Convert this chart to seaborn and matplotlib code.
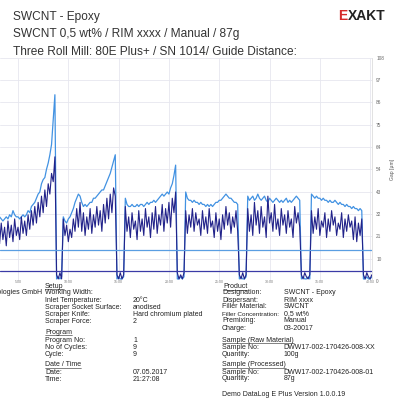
import numpy as np
import pandas as pd
import matplotlib
matplotlib.use("Agg")
import matplotlib.pyplot as plt
from matplotlib.lines import Line2D
import seaborn as sns

# ---- data (gap readings, sampled every 10 s) ----
sample_step = 10
first_sample = 180

light_c1 = [30, 31, 30, 29, 30, 31, 30, 32, 31, 34, 32, 31, 31, 30, 31, 32, 31, 32, 34, 33,
            36, 37, 38, 40, 42, 43, 47, 49, 50, 54, 57, 61, 66, 78, 90]
dark_c1 = [24, 18, 28, 20, 26, 17, 29, 21, 27, 19, 30, 22, 26, 20, 31, 23, 29, 22, 32, 25,
           34, 27, 36, 28, 38, 31, 41, 33, 44, 36, 47, 42, 52, 48, 60]
light_low1 = [1, 2, 1, 2]
dark_low1 = [3, 1, 4, 1]

light_c2 = [31, 29, 28, 30, 31, 33, 35, 38, 40, 42, 41, 38, 36, 37, 36, 37, 38, 38, 40, 40,
            41, 42, 43, 44, 44, 46, 48, 50, 52, 55, 58, 61]
dark_c2 = [30, 22, 27, 19, 25, 21, 30, 24, 35, 26, 38, 24, 33, 22, 31, 25, 35, 23, 32, 26,
           36, 27, 34, 24, 37, 28, 40, 30, 42, 33, 45, 41]
light_low2 = [1, 2, 1, 1, 2]
dark_low2 = [3, 1, 4, 1, 3]

light_c3 = [40, 37, 36, 36, 37, 36, 36, 37, 36, 37, 37, 36, 37, 38, 37, 38, 38, 39, 38, 39,
            40, 41, 42, 41, 42, 43, 42, 45, 47, 51, 56]
dark_c3 = [36, 24, 31, 21, 33, 25, 29, 20, 34, 24, 30, 22, 35, 26, 31, 21, 33, 25, 36, 23,
           32, 27, 37, 24, 35, 28, 38, 26, 40, 33, 43]
light_low3 = [1, 1, 2, 1, 2]
dark_low3 = [4, 1, 3, 1, 4]

light_c4 = [43, 40, 39, 39, 38, 39, 38, 38, 37, 38, 37, 37, 36, 37, 36, 37, 36, 37, 38, 38,
            39, 39, 40, 41, 42, 41, 40, 40, 39, 38, 38, 37]
dark_c4 = [34, 23, 32, 26, 35, 24, 33, 27, 30, 22, 34, 25, 31, 23, 35, 26, 29, 21, 33, 24,
           30, 20, 32, 25, 36, 27, 33, 23, 31, 26, 34, 24]
light_low4 = [1, 2, 1, 1, 2]
dark_low4 = [3, 1, 4, 1, 3]

light_c5 = [41, 39, 40, 41, 39, 40, 42, 40, 39, 40, 41, 39, 38, 40, 39, 38, 39, 40, 39, 38,
            39, 38, 39, 40, 38, 39, 38, 39, 40, 41, 40, 39]
dark_c5 = [35, 24, 32, 22, 38, 27, 34, 23, 36, 26, 31, 21, 41, 28, 33, 24, 37, 25, 30, 22,
           35, 27, 32, 23, 34, 26, 30, 21, 36, 28, 33, 26]
light_low5 = [1, 2, 1, 1, 2, 1]
dark_low5 = [3, 1, 4, 2, 1, 3]

light_c6 = [42, 41, 40, 41, 40, 40, 39, 40, 39, 39, 38, 39, 38, 38, 39, 38, 37, 38, 37, 37,
            36, 37, 36, 36, 35, 36, 35, 35, 34, 35, 34]
dark_c6 = [34, 23, 31, 25, 35, 22, 29, 26, 33, 21, 30, 24, 34, 27, 31, 22, 28, 25, 33, 21,
           30, 24, 32, 26, 29, 20, 31, 19, 28, 22, 30]
light_low6 = [1, 1, 2, 1, 1, 2]
dark_low6 = [3, 1, 4, 2, 1, 3]

upper_limit = 15
lower_limit = 5

y_tick_values = [0, 10.8, 21.6, 32.4, 43.2, 54, 64.8, 75.6, 86.4, 97.2, 108]
y_tick_labels = ["0", "10", "21", "32", "43", "54", "64", "75", "86", "97", "108"]
x_tick_values = [300, 600, 900, 1200, 1500, 1800, 2100, 2400]
x_tick_labels = ["5:00", "10:00", "15:00", "20:00", "25:00", "30:00", "35:00", "40:00"]

light = (light_c1 + light_low1 + light_c2 + light_low2 + light_c3 + light_low3
         + light_c4 + light_low4 + light_c5 + light_low5 + light_c6 + light_low6)
dark = (dark_c1 + dark_low1 + dark_c2 + dark_low2 + dark_c3 + dark_low3
        + dark_c4 + dark_low4 + dark_c5 + dark_low5 + dark_c6 + dark_low6)
df = pd.DataFrame({"time": first_sample + sample_step * np.arange(len(light)),
                   "light": light, "dark": dark})

# ---- figure ----
sns.set_theme(style="whitegrid")
plt.rcParams['font.family'] = ['Liberation Sans', 'DejaVu Sans']

W = H = 398
fig = plt.figure(figsize=(3.98, 3.98), dpi=100)
fig.patch.set_facecolor("white")


def px(x, y):
    return x / W, 1 - y / H


ax = fig.add_axes([0, 1 - 281 / H, 372 / W, (281 - 57.5) / H])
sns.lineplot(data=df, x="time", y="light", color="#4292e2", linewidth=0.9, ax=ax)
sns.lineplot(data=df, x="time", y="dark", color="#22238a", linewidth=0.8, ax=ax)
ax.axhline(upper_limit, color="#5a9ee2", linewidth=0.9)
ax.axhline(lower_limit, color="#3b3ba6", linewidth=0.9)

ax.set_xlim(192.6, 2411)
ax.set_ylim(0, 108)
ax.set_yticks(y_tick_values)
ax.set_yticklabels(y_tick_labels)
ax.set_xticks(x_tick_values)
ax.set_xticklabels(x_tick_labels)
ax.yaxis.tick_right()
ax.yaxis.set_label_position("right")
ax.set_ylabel("Gap [µm]", fontsize=3.6, color="#555555", labelpad=4)
ax.set_xlabel("")
ax.tick_params(axis="y", labelsize=3.4, colors="#666666", pad=3, length=0)
ax.tick_params(axis="x", labelsize=2.5, colors="#777777", pad=-0.6, length=0)
ax.grid(True, color="#e6e7ef", linewidth=0.6)
for s in ["left", "top", "bottom"]:
    ax.spines[s].set_visible(False)
ax.spines["right"].set_color("#dddddd")
ax.spines["right"].set_linewidth(0.6)

# ---- header ----
hdr = ["SWCNT - Epoxy",
       "SWCNT 0,5 wt% / RIM xxxx / Manual / 87g",
       "Three Roll Mill: 80E Plus+ / SN 1014/ Guide Distance:"]
for i, line in enumerate(hdr):
    fig.text(*px(13, 17 + 17.5 * i), line, fontsize=8.6, color="#333333", va="center")

renderer = fig.canvas.get_renderer()
t_rest = fig.text(*px(385, 16), "XAKT", fontsize=10, fontweight="bold", color="#222222",
                  ha="right", va="center")
bb = t_rest.get_window_extent(renderer)
fig.text(bb.x0 / W - 0.001, 1 - 16 / H, "E", fontsize=10, fontweight="bold", color="#d42a2a",
         ha="right", va="center")

# ---- info block ----
fs = 5.0


def heading(x, y, s):
    t = fig.text(*px(x, y), s, fontsize=fs, color="#222222", va="center")
    b = t.get_window_extent(renderer)
    fig.add_artist(Line2D([b.x0 / W, b.x1 / W], [(b.y0 + 0.4) / H] * 2,
                          color="#222222", linewidth=0.4))


def row(x1, x2, y, a, b="", size=fs):
    fig.text(*px(x1, y), a, fontsize=size, color="#222222", va="center")
    if b:
        fig.text(*px(x2, y), b, fontsize=fs, color="#222222", va="center")


fig.text(*px(42, 293), "EXAKT Advanced Technologies GmbH", fontsize=fs, color="#222222",
         ha="right", va="center")

setup_rows = [("Working Width:", ""), ("Inlet Temperature:", "20°C"),
              ("Scraper Socket Surface:", "anodised"), ("Scraper Knife:", "Hard chromium plated"),
              ("Scraper Force:", "2")]
heading(45, 286, "Setup")
for k, (a, b) in enumerate(setup_rows):
    row(45, 133, 293 + 7.1 * k, a, b)
heading(45, 332, "Program")
for k, (a, b) in enumerate([("Program No:", "1"), ("No of Cycles:", "9"), ("Cycle:", "9")]):
    row(45, 133, 340 + 7.1 * k, a, b)
heading(45, 365, "Date / Time")
for k, (a, b) in enumerate([("Date:", "07.05.2017"), ("Time:", "21:27:08")]):
    row(45, 133, 372 + 7.1 * k, a, b)

product_rows = [("Designation:", "SWCNT - Epoxy"), ("Dispersant:", "RIM xxxx"),
                ("Filler Material:", "SWCNT"), ("Filler Concentration:", "0,5 wt%"),
                ("Premixing:", "Manual"), ("Charge:", "03-20017")]
heading(223, 286.5, "Product")
for k, (a, b) in enumerate(product_rows):
    row(222, 283.5, 293 + 7 * k, a, b, size=4.6 if a.startswith("Filler C") else fs)
heading(222, 340, "Sample (Raw Material)")
for k, (a, b) in enumerate([("Sample No:", "DWW17-002-170426-008-XX"), ("Quantity:", "100g")]):
    row(222, 283.5, 347.5 + 7 * k, a, b)
heading(222, 365, "Sample (Processed)")
for k, (a, b) in enumerate([("Sample No:", "DWW17-002-170426-008-01"), ("Quantity:", "87g")]):
    row(222, 283.5, 372 + 7 * k, a, b)
row(222, 283.5, 394, "Demo DataLog E Plus Version 1.0.0.19")

fig.savefig("out.png", dpi=100, facecolor="white")
